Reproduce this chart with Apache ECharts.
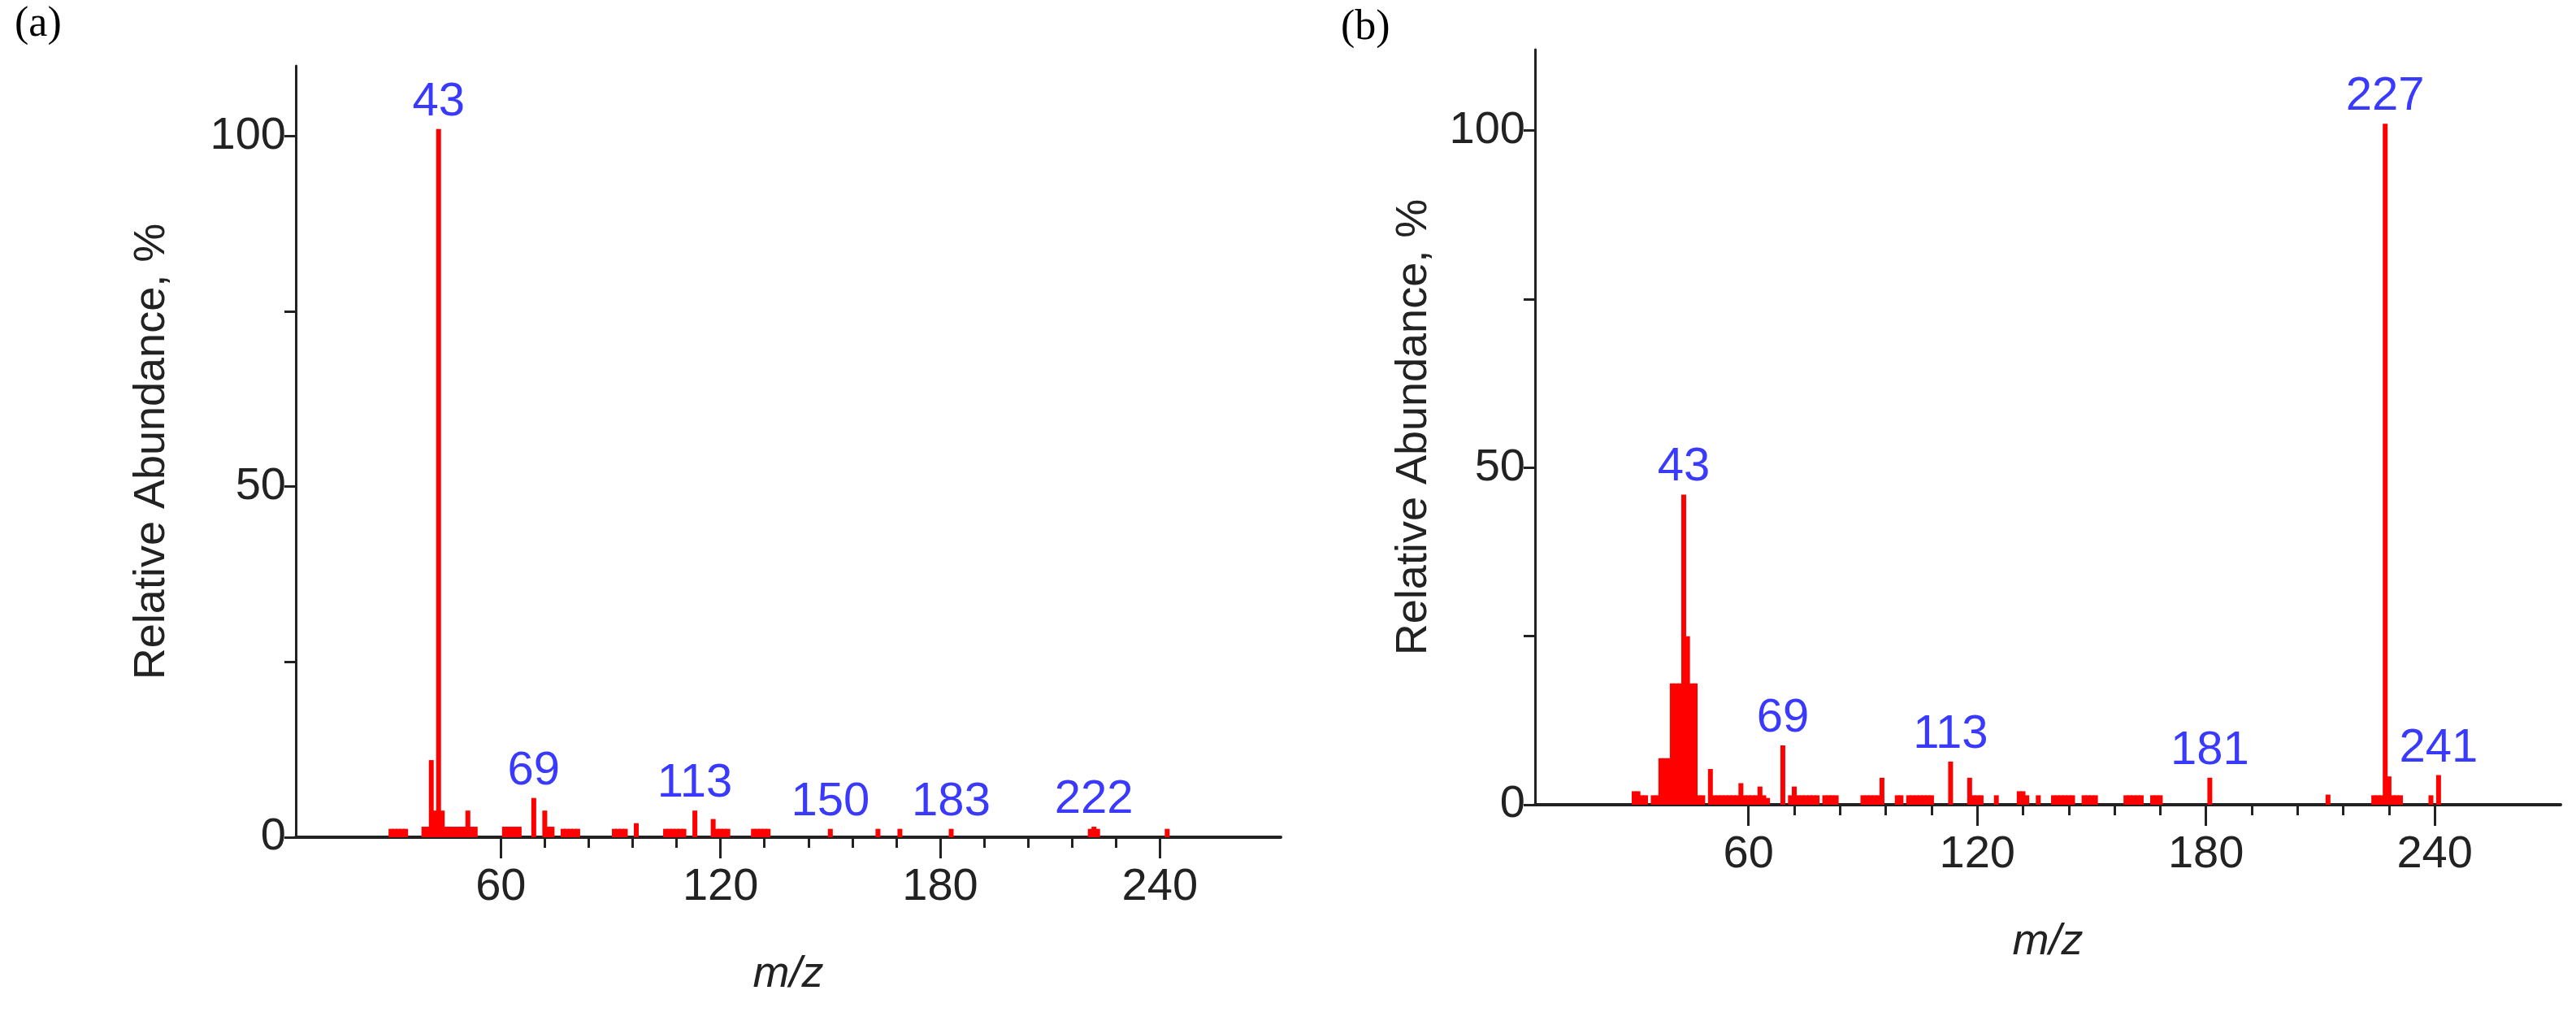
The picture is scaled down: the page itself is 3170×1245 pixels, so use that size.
<!DOCTYPE html>
<html>
<head>
<meta charset="utf-8">
<script src="https://cdn.jsdelivr.net/npm/echarts@6/dist/echarts.min.js"></script>
<style>
  html, body { margin: 0; padding: 0; background: #fff; }
  #chart { width: 3170px; height: 1245px; }
</style>
</head>
<body>
<div id="chart"></div>
<script>
// spectrum (a): [m/z, relative abundance %]
const spectrumA = [
    [30, 1.2], [31, 1.2], [32, 1.2], [33, 1.2], [34, 1.2],
    [39, 1.5], [40, 1.5], [41, 11], [42, 3.8], [43, 101], [44, 3.8], [45, 1.5],
    [46, 1.5], [47, 1.5], [48, 1.5], [49, 1.5], [50, 1.5], [51, 3.8], [52, 1.5], [53, 1.5],
    [61, 1.5], [62, 1.5], [63, 1.5], [64, 1.5], [65, 1.5], [69, 5.6], [72, 3.8],
    [73, 1.5], [74, 1.5], [77, 1.2], [78, 1.2], [79, 1.2], [80, 1.2], [81, 1.2],
    [91, 1.2], [92, 1.2], [93, 1.2], [94, 1.2], [97, 2],
    [105, 1.2], [106, 1.2], [107, 1.2], [108, 1.2], [109, 1.2], [110, 1.2], [113, 3.8],
    [118, 2.6], [119, 1.2], [120, 1.2], [121, 1.2], [122, 1.2],
    [129, 1.2], [130, 1.2], [131, 1.2], [132, 1.2], [133, 1.2],
    [150, 1.2], [163, 1.2], [169, 1.2], [183, 1.2], [221, 1.2], [222, 1.5], [223, 1.2], [242, 1.2]
];
const labelsA = [43, 69, 113, 150, 183, 222];

// spectrum (b)
const spectrumB = [
    [30, 2], [31, 2], [32, 1.4], [33, 1.4], [35, 1.4], [36, 1.4], [37, 6.9], [38, 6.9],
    [39, 6.9], [40, 18], [41, 18], [42, 18], [43, 46], [44, 25], [45, 18], [46, 18],
    [47, 1.4], [48, 1.4], [50, 5.3], [51, 1.4], [52, 1.4], [53, 1.4], [54, 1.4], [55, 1.4],
    [56, 1.4], [57, 1.4], [58, 3.2], [59, 1.4], [60, 1.4], [61, 1.4], [62, 1.4], [63, 2.7],
    [64, 1.4], [65, 1], [69, 8.8], [71, 1.4], [72, 2.7], [73, 1.4], [74, 1.4], [75, 1.4],
    [76, 1.4], [77, 1.4], [78, 1.4], [80, 1.4], [81, 1.4], [82, 1.4], [83, 1.4],
    [90, 1.4], [91, 1.4], [92, 1.4], [93, 1.4], [94, 1.4], [95, 4],
    [99, 1.4], [100, 1.4], [102, 1.4], [103, 1.4], [104, 1.4], [105, 1.4], [106, 1.4], [107, 1.4], [108, 1.4],
    [113, 6.4], [118, 4], [119, 1.4], [120, 1.4], [121, 1.4], [125, 1.4],
    [131, 2], [132, 2], [133, 1.4], [136, 1.4], [140, 1.4], [141, 1.4], [142, 1.4], [143, 1.4],
    [144, 1.4], [145, 1.4], [148, 1.4], [149, 1.4], [150, 1.4], [151, 1.4],
    [159, 1.4], [160, 1.4], [161, 1.4], [162, 1.4], [163, 1.4], [166, 1.4], [167, 1.4], [168, 1.4],
    [181, 4], [212, 1.5], [224, 1.4], [225, 1.4], [226, 1.4], [227, 101], [228, 4.2], [229, 1.4], [230, 1.4],
    [231, 1.4], [239, 1.4], [241, 4.4]
];
const labelsB = [43, 69, 113, 181, 227, 241];

const xMajor = [60, 120, 180, 240];
const xMinor = [72, 84, 96, 108, 132, 144, 156, 168, 192, 204, 216, 228];
const yTicks = [0, 25, 50, 75, 100];
const yLabels = [0, 50, 100];

const axisColor = '#222';
const font = 'Liberation Sans Narrow, Liberation Sans, Arial, sans-serif';

function seriesData(spec, labels) {
    return spec.map(function (p) {
        let item = { value: p };
        if (labels.indexOf(p[0]) >= 0) {
            item.label = {
                show: true, position: 'top', distance: 4,
                formatter: String(p[0]), color: '#3a3aff',
                fontSize: 58, fontFamily: font
            };
        }
        return item;
    });
}

let grids = [
    { left: 364, top: 81, width: 1212, height: 949 },
    { left: 1889, top: 61, width: 1262, height: 929 }
];
let yNameGaps = [150, 122];

let xAxes = [], yAxes = [], series = [];
[0, 1].forEach(function (i) {
    xAxes.push({
        type: 'value', gridIndex: i, min: 4, max: 273,
        name: 'm/z', nameLocation: 'middle', nameGap: 142,
        nameTextStyle: { fontSize: 54, fontStyle: 'italic', color: '#222', fontFamily: font },
        axisLine: { lineStyle: { color: axisColor, width: 4 } },
        axisTick: { length: 26, lineStyle: { color: axisColor, width: 3 }, customValues: xMajor },
        axisLabel: { fontSize: 56, color: '#222', fontFamily: font, margin: 34, customValues: xMajor },
        splitLine: { show: false }
    });
    xAxes.push({
        type: 'value', gridIndex: i, min: 4, max: 273, position: 'bottom',
        axisLine: { show: false },
        axisTick: { length: 13, lineStyle: { color: axisColor, width: 3 }, customValues: xMinor },
        axisLabel: { show: false },
        splitLine: { show: false }
    });
    yAxes.push({
        type: 'value', gridIndex: i, min: 0, max: i === 0 ? 110 : 112,
        name: 'Relative Abundance, %', nameLocation: 'middle', nameGap: yNameGaps[i],
        nameTextStyle: { fontSize: 54, color: '#222', fontFamily: font },
        axisLine: { show: true, lineStyle: { color: axisColor, width: 3 } },
        axisTick: { show: true, length: 14, lineStyle: { color: axisColor, width: 3 }, customValues: yTicks },
        axisLabel: { fontSize: 56, color: '#222', fontFamily: font, margin: 12, customValues: yLabels },
        splitLine: { show: false }
    });
    series.push({
        type: 'bar', xAxisIndex: i * 2, yAxisIndex: i,
        barWidth: 6, barGap: '-100%',
        itemStyle: { color: '#ff0000' },
        data: seriesData(i === 0 ? spectrumA : spectrumB, i === 0 ? labelsA : labelsB)
    });
});

let myChart = echarts.init(document.getElementById('chart'));
myChart.setOption({
    animation: false,
    backgroundColor: '#fff',
    grid: grids,
    xAxis: xAxes,
    yAxis: yAxes,
    series: series,
    graphic: [
        { type: 'text', left: 18, top: 4, style: { text: '(a)', fontSize: 52, fontFamily: 'Liberation Serif, serif', fill: '#000' } },
        { type: 'text', left: 1650, top: 8, style: { text: '(b)', fontSize: 52, fontFamily: 'Liberation Serif, serif', fill: '#000' } }
    ]
});
</script>
</body>
</html>
